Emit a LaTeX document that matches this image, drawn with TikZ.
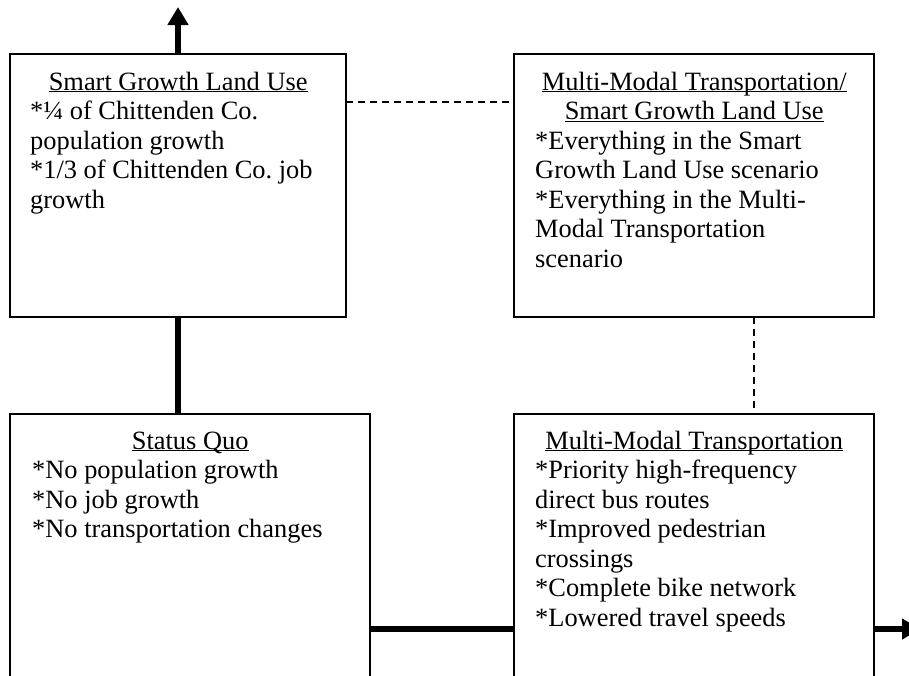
\documentclass[tikz,border=0pt]{standalone}
\usepackage{fontspec}
\setmainfont{Liberation Serif}
\usetikzlibrary{arrows.meta}
\frenchspacing

\newcommand{\scentitle}[1]{\underline{\smash{#1}}}
\newcommand{\scentext}[3]{\begin{minipage}[t]{#1}\centering #2\par\raggedright #3\end{minipage}}

\tikzset{scenario/.style={draw, line width=2pt, anchor=north west, inner sep=0pt, outer sep=0pt, minimum width=360pt}}
\tikzset{entry/.style={anchor=base west, inner sep=0pt, font=\fontsize{26.4}{29.5}\selectfont}}
\tikzset{flow/.style={line width=6.5pt}}
\tikzset{relation/.style={line width=2pt, dash pattern=on 7pt off 5pt}}

\begin{document}
\begin{tikzpicture}[x=1pt, y=-1pt]

	\clip (0,0) rectangle (909,675);

	\node[scenario, minimum width=336pt, minimum height=263pt] (smart-box) at (10,54) {};
	\node[scenario, minimum height=263pt] (combined-box) at (514,54) {};
	\node[scenario, minimum height=290pt] (quo-box) at (10,414) {};
	\node[scenario, minimum height=290pt] (transport-box) at (514,414) {};

	\node[entry] (smart) at (30,90) {\scentext{296pt}{\scentitle{Smart Growth Land Use}}{*¼ of Chittenden Co.\par population growth\par *1/3 of Chittenden Co. job\par growth}};
	\node[entry] (combined) at (535,90) {\scentext{318pt}{\scentitle{Multi-Modal Transportation/}\par\scentitle{Smart Growth Land Use}}{*Everything in the Smart\par Growth Land Use scenario\par *Everything in the Multi-\par Modal Transportation\par scenario}};
	\node[entry] (quo) at (32,449) {\scentext{316pt}{\scentitle{Status Quo}}{*No population growth\par *No job growth\par *No transportation changes}};
	\node[entry] (transport) at (535,449) {\scentext{318pt}{\scentitle{Multi-Modal Transportation}}{*Priority high-frequency\par direct bus routes\par *Improved pedestrian\par crossings\par *Complete bike network\par *Lowered travel speeds}};

	\coordinate (goal) at (178,7);
	\coordinate (onward) at (920,629);
	\coordinate (link) at (0,629);
	\coordinate (bridge) at (0,102);
	\coordinate (merge) at (754,0);

	\draw[flow, -{Triangle[length=18pt, width=20pt]}] (smart-box.north) -- (goal);
	\draw[flow] (smart-box.south) -- (smart-box.south |- quo-box.north);
	\draw[flow] (quo-box.east |- link) -- (transport-box.west |- link);
	\draw[flow, -{Triangle[length=18pt, width=20pt]}] (transport-box.east |- link) -- (onward);
	\draw[relation] (smart-box.east |- bridge) -- (combined-box.west |- bridge);
	\draw[relation] (combined-box.south -| merge) -- (transport-box.north -| merge);
\end{tikzpicture}
\end{document}
